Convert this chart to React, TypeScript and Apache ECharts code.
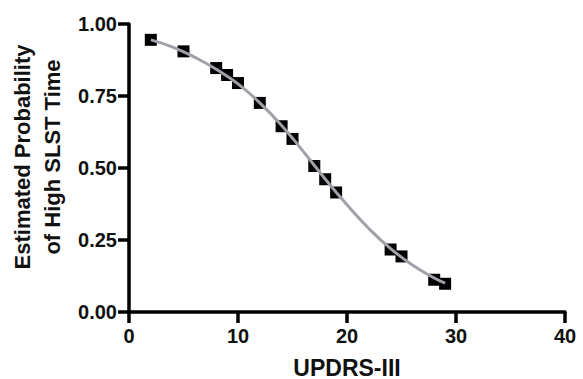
import React, { useEffect, useRef } from "react";
import * as echarts from "echarts";

const pointX = [2, 5, 8, 9, 10, 12, 14, 15, 17, 18, 19, 24, 25, 28, 29];
const pointY = [0.945, 0.905, 0.847, 0.823, 0.795, 0.726, 0.645, 0.601, 0.507, 0.461, 0.415, 0.217, 0.193, 0.112, 0.098];

const curveX = [2, 4, 6, 8, 10, 12, 14, 16, 18, 20, 22, 24, 26, 28, 29];
const curveY = [0.945, 0.92, 0.885, 0.843, 0.792, 0.726, 0.648, 0.557, 0.462, 0.372, 0.29, 0.22, 0.163, 0.118, 0.1];

const xTicks = [0, 10, 20, 30, 40];
const yTicks = [0, 0.25, 0.5, 0.75, 1.0];

const xName = "UPDRS-III";
const yName = "Estimated Probability\nof High SLST Time";

export default function App() {
  const ref = useRef<HTMLDivElement>(null);
  useEffect(() => {
    if (!ref.current) return;
    const chart = echarts.init(ref.current, undefined, { renderer: "svg" });
    const font = "Liberation Sans, Arial, Helvetica, sans-serif";
    chart.setOption({
      animation: false,
      backgroundColor: "#ffffff",
      grid: { left: 129, right: 18, top: 24, bottom: 67, containLabel: false, outerBoundsMode: "none" },
      xAxis: {
        type: "value",
        min: xTicks[0],
        max: xTicks[xTicks.length - 1],
        interval: 10,
        name: xName,
        nameLocation: "middle",
        nameGap: 45,
        nameTextStyle: { fontFamily: font, fontWeight: "bold", fontSize: 23, lineHeight: 21, color: "#111" },
        axisLine: { show: true, lineStyle: { color: "#000", width: 3.5 } },
        axisTick: { show: true, length: 11, lineStyle: { color: "#000", width: 3.5 } },
        axisLabel: { fontFamily: font, fontWeight: "bold", fontSize: 20, color: "#111", margin: 14 },
        splitLine: { show: false },
      },
      yAxis: {
        type: "value",
        min: yTicks[0],
        max: yTicks[yTicks.length - 1],
        interval: 0.25,
        name: yName,
        nameLocation: "middle",
        nameGap: 54,
        nameTextStyle: {
          fontFamily: font,
          fontWeight: "bold",
          fontSize: 22,
          color: "#111",
          lineHeight: 30,
          padding: [0, 0, 0, 22],
        },
        axisLine: { show: true, lineStyle: { color: "#000", width: 3.5 } },
        axisTick: { show: true, length: 11, lineStyle: { color: "#000", width: 3.5 } },
        axisLabel: {
          fontFamily: font,
          fontWeight: "bold",
          fontSize: 20,
          color: "#111",
          margin: 12,
          formatter: (v: number) => v.toFixed(2),
        },
        splitLine: { show: false },
      },
      series: [
        {
          type: "line",
          data: curveX.map((x, i) => [x, curveY[i]]),
          smooth: true,
          showSymbol: false,
          lineStyle: { color: "#a0a0a8", width: 3 },
          z: 3,
        },
        {
          type: "scatter",
          data: pointX.map((x, i) => [x, pointY[i]]),
          symbol: "rect",
          symbolSize: 12,
          itemStyle: { color: "#000", opacity: 1 },
          z: 2,
        },
      ],
    });
    return () => chart.dispose();
  }, []);
  return <div ref={ref} style={{ width: 583, height: 379, position: "absolute", left: 0, top: 0 }} />;
}
